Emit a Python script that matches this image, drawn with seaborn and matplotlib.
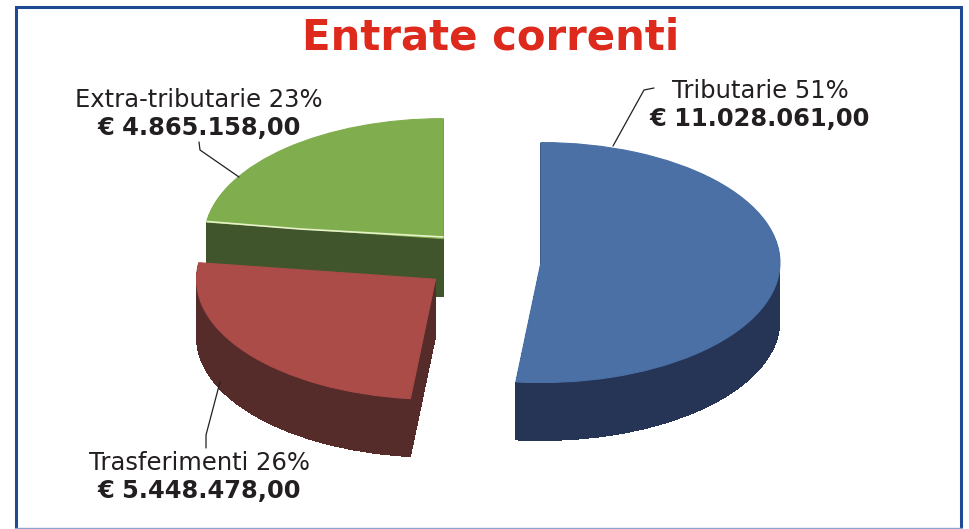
import matplotlib
matplotlib.use('Agg')
import matplotlib.pyplot as plt
import seaborn as sns

# euro amounts for each slice
categories = ['Tributarie', 'Trasferimenti', 'Extra-tributarie']
values = [11028061, 5448478, 4865158]
percents = [51, 26, 23]
amounts = ['€ 11.028.061,00', '€ 5.448.478,00', '€ 4.865.158,00']
title = 'Entrate correnti'

top_colors = ['#4a70a6', '#ab4c49', '#80ae4e']
side_colors = ['#263556', '#552c2a', '#41552c']

sns.set_theme(style='white')
plt.rcParams['font.family'] = ['DejaVu Sans']

W, H = 969, 529
fig = plt.figure(figsize=(W / 100, H / 100), dpi=100)
fig.patch.set_facecolor('white')
ax = fig.add_axes([0, 0, 1, 1])

# pie centre and radius in pixels, the axes get squashed to look 3d
cx, cy = 482, 261
rx, ry = 239, 120
depth = 58
explode = [0.247, 0.247, 0.247]

# the side wall is the same pie stacked down one pixel at a time
# no antialiasing here, stacked soft edges build up into a dark line
for d in range(depth, 0, -1):
    ax.pie(values, explode=explode, colors=side_colors, startangle=90, counterclock=False,
           center=(0, -d / ry), wedgeprops={'linewidth': 0, 'antialiased': False})
wedges, _ = ax.pie(values, explode=explode, colors=top_colors, startangle=90, counterclock=False,
                   center=(0, 0), wedgeprops={'linewidth': 0.8})
for w in wedges:
    w.set_edgecolor(w.get_facecolor())
ax.set_aspect('auto')
ax.set_xlim(-cx / rx, (W - cx) / rx)
ax.set_ylim((cy - H) / ry, cy / ry)
ax.axis('off')

# overlay in pixel coords for the frame, leader lines and labels
ov = fig.add_axes([0, 0, 1, 1])
ov.set_xlim(0, W)
ov.set_ylim(H, 0)
ov.axis('off')
ov.patch.set_alpha(0)

ov.plot([16, 16, 961, 961], [527, 7, 7, 527], color='#1f4a94', lw=2.2, solid_joinstyle='miter')
ov.plot([16, 961], [527.5, 527.5], color='#8ea4cc', lw=1)

ov.plot([207, 300, 443], [221.5, 229, 237], color='#e8f2c8', lw=1.2)

ink = '#231f20'
ov.plot([613, 644, 654], [146, 90, 88], color=ink, lw=0.9)
ov.plot([199, 200, 239], [142, 150, 177], color=ink, lw=0.9)
ov.plot([220, 206, 206], [382, 435, 448], color=ink, lw=0.9)

ov.text(490.5, 49, title, color='#de2a1d', fontsize=30.2, fontweight='bold', ha='center', va='baseline')

name_xy = [(760, 98), (199.5, 470), (199, 107)]
amount_xy = [(759.5, 126), (199.5, 498), (199, 135)]
for name, pct, amt, nxy, axy in zip(categories, percents, amounts, name_xy, amount_xy):
    ov.text(nxy[0], nxy[1], f'{name} {pct}%', color=ink, fontsize=17.5, ha='center', va='baseline')
    ov.text(axy[0], axy[1], amt, color=ink, fontsize=17.4, fontweight='bold', ha='center', va='baseline')

fig.savefig('out.png', dpi=100)
